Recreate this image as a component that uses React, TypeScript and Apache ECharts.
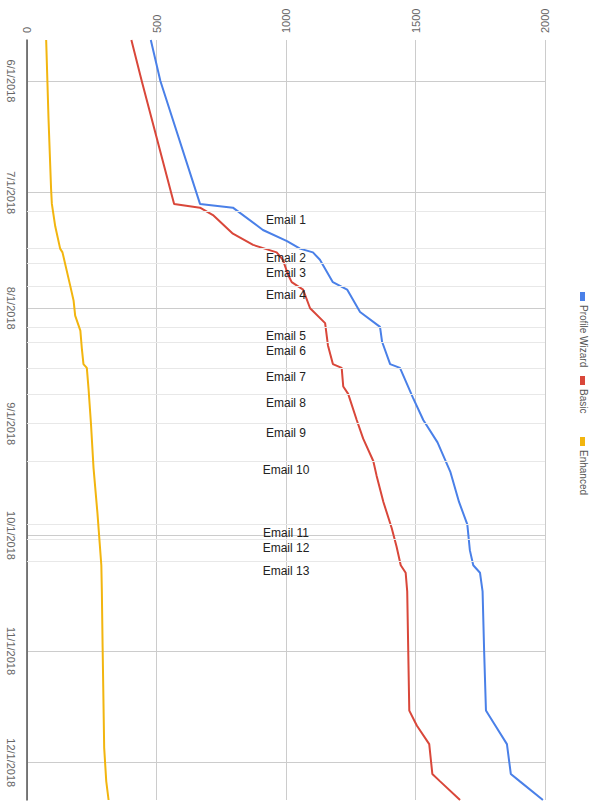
import React, { useEffect, useRef } from 'react';
import * as echarts from 'echarts';

const seriesNames = ['Profile Wizard', 'Basic', 'Enhanced'];
const seriesColors = ['#4a80e8', '#d9473a', '#f2b50f'];

const profileWizard: [string, number][] = [
  ['2018-05-21', 478], ['2018-06-01', 515], ['2018-07-04', 668], ['2018-07-05', 795],
  ['2018-07-11', 911], ['2018-07-14', 1004], ['2018-07-16', 1054], ['2018-07-17', 1104],
  ['2018-07-19', 1131], ['2018-07-25', 1181], ['2018-07-27', 1236], ['2018-08-02', 1286],
  ['2018-08-06', 1363], ['2018-08-10', 1371], ['2018-08-16', 1402], ['2018-08-17', 1440],
  ['2018-08-25', 1490], ['2018-08-31', 1530], ['2018-09-06', 1585], ['2018-09-14', 1635],
  ['2018-09-22', 1668], ['2018-09-28', 1700], ['2018-10-05', 1710], ['2018-10-09', 1723],
  ['2018-10-11', 1749], ['2018-10-16', 1759], ['2018-11-01', 1765], ['2018-11-17', 1772],
  ['2018-11-20', 1799], ['2018-11-26', 1853], ['2018-12-04', 1868], ['2018-12-06', 1903],
  ['2018-12-11', 1992],
];

const basic: [string, number][] = [
  ['2018-05-21', 403], ['2018-06-01', 443], ['2018-07-04', 568], ['2018-07-05', 668],
  ['2018-07-07', 718], ['2018-07-12', 795], ['2018-07-15', 873], ['2018-07-17', 964],
  ['2018-07-19', 988], ['2018-07-23', 1008], ['2018-07-25', 1022], ['2018-07-27', 1066],
  ['2018-08-01', 1093], ['2018-08-05', 1151], ['2018-08-11', 1162], ['2018-08-16', 1181],
  ['2018-08-17', 1215], ['2018-08-22', 1221], ['2018-08-24', 1240], ['2018-08-31', 1273],
  ['2018-09-05', 1298], ['2018-09-11', 1337], ['2018-09-15', 1350], ['2018-09-22', 1376],
  ['2018-09-29', 1408], ['2018-10-04', 1427], ['2018-10-09', 1443], ['2018-10-11', 1462],
  ['2018-10-16', 1468], ['2018-11-17', 1476], ['2018-11-21', 1505], ['2018-11-26', 1553],
  ['2018-12-04', 1565], ['2018-12-06', 1595], ['2018-12-11', 1672],
];

const enhanced: [string, number][] = [
  ['2018-05-21', 74], ['2018-06-11', 83], ['2018-06-30', 93], ['2018-07-04', 96],
  ['2018-07-10', 109], ['2018-07-16', 128], ['2018-07-17', 137], ['2018-07-26', 167],
  ['2018-07-30', 180], ['2018-08-03', 186], ['2018-08-07', 206], ['2018-08-12', 212],
  ['2018-08-16', 218], ['2018-08-17', 231], ['2018-08-23', 238], ['2018-09-01', 247],
  ['2018-09-13', 257], ['2018-09-25', 272], ['2018-10-09', 287], ['2018-10-16', 289],
  ['2018-10-31', 292], ['2018-11-27', 298], ['2018-12-06', 306], ['2018-12-11', 315],
];

const emailNames = [
  'Email 1', 'Email 2', 'Email 3', 'Email 4', 'Email 5', 'Email 6', 'Email 7',
  'Email 8', 'Email 9', 'Email 10', 'Email 11', 'Email 12', 'Email 13',
];
const emailDates = [
  '2018-07-06', '2018-07-16', '2018-07-20', '2018-07-26', '2018-08-06', '2018-08-10',
  '2018-08-17', '2018-08-24', '2018-09-01', '2018-09-11', '2018-09-28', '2018-10-02',
  '2018-10-08',
];

const monthTicks = [
  '2018-06-01', '2018-07-01', '2018-08-01', '2018-09-01', '2018-10-01', '2018-11-01', '2018-12-01',
];
const valueTicks = [0, 500, 1000, 1500, 2000];
const dateRange = ['2018-05-21', '2018-12-11'];

const toTs = (s: string) => {
  const [y, m, d] = s.split('-').map(Number);
  return new Date(y, m - 1, d).getTime();
};

const FONT = '"Liberation Sans", Arial, sans-serif';

export default function App() {
  const ref = useRef<HTMLDivElement>(null);
  useEffect(() => {
    if (!ref.current) return;
    const chart = echarts.init(ref.current, undefined, { renderer: 'svg' });
    const seriesData = [profileWizard, basic, enhanced];
    const legendY = [292, 376, 437];
    const graphic: any[] = [];
    seriesNames.forEach((name, i) => {
      graphic.push({
        type: 'rect',
        shape: { x: 580, y: legendY[i], width: 5, height: 9 },
        style: { fill: seriesColors[i] },
      });
      graphic.push({
        type: 'text',
        x: 583,
        y: legendY[i] + 13,
        rotation: -Math.PI / 2,
        style: {
          text: name,
          fill: '#555',
          font: '10px ' + FONT,
          textAlign: 'left',
          textVerticalAlign: 'middle',
          align: 'left',
          verticalAlign: 'middle',
        },
      });
    });

    const monthTs = monthTicks.map(toTs);

    chart.setOption({
      animation: false,
      grid: { left: 27, right: 57, top: 40, bottom: 2, containLabel: false, outerBoundsMode: 'none' },
      xAxis: {
        type: 'value',
        position: 'top',
        min: valueTicks[0],
        max: valueTicks[valueTicks.length - 1],
        interval: 500,
        axisLine: { show: false },
        axisTick: { show: false },
        axisLabel: {
          rotate: -90,
          margin: 7,
          color: '#666',
          fontSize: 11,
          fontFamily: FONT,
          formatter: (v: number) => String(v),
        },
        splitLine: { show: true, lineStyle: { color: '#cccccc', width: 1 } },
      },
      yAxis: {
        type: 'value',
        inverse: true,
        scale: true,
        min: toTs(dateRange[0]),
        max: toTs(dateRange[1]),
        axisLine: { show: true, lineStyle: { color: '#555', width: 1.5 } },
        axisTick: { show: false, customValues: monthTs },
        axisLabel: {
          customValues: monthTs,
          rotate: -90,
          margin: 11,
          color: '#666',
          fontSize: 11,
          fontFamily: FONT,
          formatter: (v: number) => {
            const d = new Date(v);
            return `${d.getMonth() + 1}/${d.getDate()}/${d.getFullYear()}`;
          },
        },
        splitLine: { show: true, lineStyle: { color: '#cccccc', width: 1 } },
      },
      graphic,
      series: seriesData.map((data, i) => ({
        type: 'line',
        name: seriesNames[i],
        data: data.map(([d, v]) => [v, toTs(d)]),
        showSymbol: false,
        symbol: 'none',
        lineStyle: { color: seriesColors[i], width: 2 },
        itemStyle: { color: seriesColors[i] },
        z: 3 + i,
        silent: true,
        markLine:
          i === 2
            ? {
                silent: true,
                symbol: ['none', 'none'],
                lineStyle: { color: '#e8e8e8', type: 'solid', width: 1 },
                emphasis: { disabled: true },
                label: {
                  show: true,
                  position: 'insideMiddleBottom',
                  distance: 3,
                  formatter: '{b}',
                  color: '#222',
                  fontSize: 12,
                  fontFamily: FONT,
                },
                data: emailNames.map((n, k) => ({ name: n, yAxis: toTs(emailDates[k]) })),
              }
            : undefined,
      })),
    });
    return () => chart.dispose();
  }, []);
  return (
    <div
      ref={ref}
      style={{ position: 'fixed', left: 0, top: 0, width: 602, height: 802, background: '#fff' }}
    />
  );
}
